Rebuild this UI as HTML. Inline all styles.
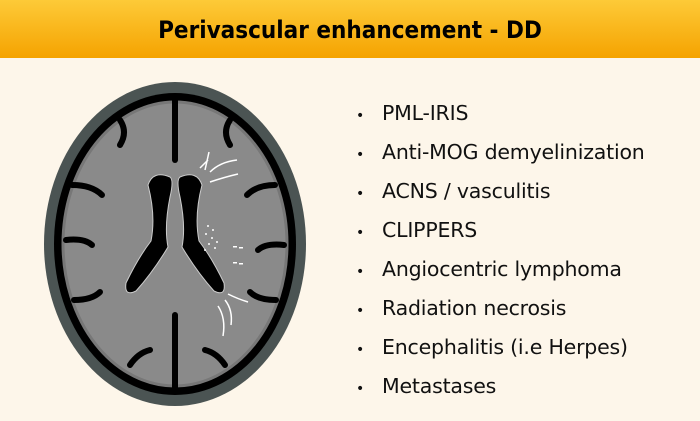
<!DOCTYPE html>
<html><head><style>
body{margin:0;width:700px;height:421px;background:#fdf6ea;overflow:hidden;font-family:"DejaVu Sans","Liberation Sans",sans-serif;position:relative}
.h{position:absolute;left:0;top:0;width:700px;height:58px;background:linear-gradient(#fdca38,#f5a300);text-align:center;line-height:60px;font-weight:bold;font-size:24px;color:#000;font-family:"DejaVu Sans Condensed","DejaVu Sans",sans-serif}
ul{position:absolute;left:356px;top:95px;margin:0;padding:0;list-style:none}
li{font-size:20.5px;height:39px;line-height:36px;color:#111;letter-spacing:-0.2px}
li:before{content:"•";display:inline-block;width:26px;font-size:14px}
</style></head><body>
<div class="h">Perivascular enhancement - DD</div>
<svg width="700" height="421" style="position:absolute;left:0;top:0">
<ellipse cx="175" cy="244" rx="131" ry="162" fill="#4b5453"/>
<ellipse cx="175" cy="244" rx="121" ry="151" fill="#000"/>
<ellipse cx="175" cy="244" rx="112" ry="142" fill="#8a8a8a" stroke="#777" stroke-width="3"/>
<g stroke="#000" stroke-width="6" fill="none" stroke-linecap="round">
<path d="M175 100 V160"/><path d="M175 315 V388"/>
<path d="M72 185 q20 0 30 10"/><path d="M66 240 q18 -2 26 5"/><path d="M74 300 q18 0 26 -8"/>
<path d="M275 185 q-18 0 -28 10"/><path d="M284 245 q-18 -2 -26 5"/><path d="M276 300 q-18 0 -26 -8"/>
<path d="M120 120 q8 12 0 25"/><path d="M230 120 q-8 12 0 25"/><path d="M130 365 q8 -12 20 -15"/><path d="M225 365 q-8 -12 -20 -15"/>
</g>
<path d="M148 185 q5 -15 22 -8 q4 3 0 20 q-6 30 -2 50 q-15 25 -32 44 q-12 6 -10 -8 q12 -25 25 -42 q5 -25 -3 -56z" fill="#000" stroke="#ccc" stroke-width="1"/>
<path d="M202 185 q-5 -15 -22 -8 q-4 3 0 20 q6 30 2 50 q15 25 32 44 q12 6 10 -8 q-12 -25 -25 -42 q-5 -25 3 -56z" fill="#000" stroke="#ccc" stroke-width="1"/>
<g stroke="#fff" stroke-width="1.5" fill="none">
<path d="M205 170 l4 -18"/><path d="M200 168 l8 -8"/><path d="M210 172 q10 -10 27 -12"/><path d="M210 182 q15 -5 28 -8"/>
<path d="M228 294 q10 5 20 8"/><path d="M218 306 q8 12 5 30"/><path d="M225 300 q8 10 6 25"/>
</g>
<g fill="#fff">
<circle cx="208" cy="226" r="1"/><circle cx="213" cy="230" r="1"/><circle cx="206" cy="234" r="1"/><circle cx="212" cy="238" r="1"/><circle cx="217" cy="242" r="1"/><circle cx="209" cy="244" r="1"/><circle cx="215" cy="248" r="1"/><circle cx="205" cy="250" r="1"/>
<rect x="233" y="246" width="4" height="1.5"/><rect x="239" y="247" width="4" height="1.5"/><rect x="233" y="262" width="4" height="1.5"/><rect x="239" y="263" width="4" height="1.5"/>
</g>
</svg>
<ul>
<li>PML-IRIS</li><li>Anti-MOG demyelinization</li><li>ACNS / vasculitis</li><li>CLIPPERS</li><li>Angiocentric lymphoma</li><li>Radiation necrosis</li><li>Encephalitis (i.e Herpes)</li><li>Metastases</li>
</ul>
</body></html>
